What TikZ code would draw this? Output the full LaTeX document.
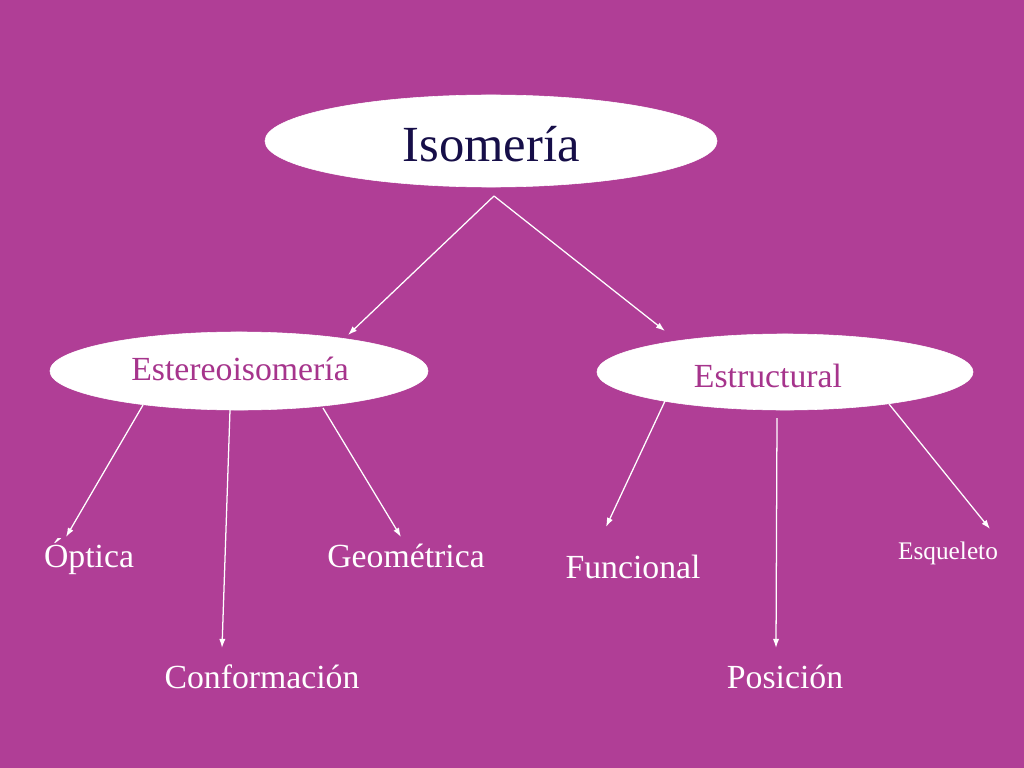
\documentclass[tikz,border=0pt]{standalone}
\usepackage{fontspec}
\setmainfont{Liberation Serif}
\usetikzlibrary{shapes.geometric}
\usetikzlibrary{arrows.meta}
\tikzset{>=latex}
\definecolor{mypurple}{RGB}{176,62,150}
\definecolor{myoval}{RGB}{166,52,140}
\definecolor{mynavy}{RGB}{22,14,72}
\tikzset{
  oval/.style={ellipse, fill=white, draw=white, inner sep=0pt},
  leaf/.style={anchor=base, text=white, inner sep=0pt},
  link/.style={-{Latex[length=6.5pt,width=4.5pt]}, white, line width=0.9pt}
}

\begin{document}
\begin{tikzpicture}[x=0.025cm, y=-0.025cm]
  
    \fill[mypurple] (0,0) rectangle (1024,768);
    
    % ovals
    \node[oval, minimum width=11.3cm, minimum height=2.3cm] (isoO) at (491,141) {};
    \node[oval, minimum width=9.45cm, minimum height=1.95cm] (esteO) at (239,371) {};
    \node[oval, minimum width=9.4cm, minimum height=1.9cm] (estrO) at (785,372) {};
    
    \node[anchor=base, text=mynavy, inner sep=0pt, font=\fontsize{36}{43}\selectfont] (iso) at (491,161) {Isomería};
    \node[anchor=base, text=myoval, inner sep=0pt, font=\fontsize{24}{29}\selectfont] (este) at (240,380) {Estereoisomería};
    \node[anchor=base, text=myoval, inner sep=0pt, font=\fontsize{24}{29}\selectfont] (estr) at (768,387) {Estructural};
    
    % leaves
    \node[leaf, font=\fontsize{24}{29}\selectfont] (opt) at (89,567) {Óptica};
    \node[leaf, font=\fontsize{24}{29}\selectfont] (geo) at (406,567) {Geométrica};
    \node[leaf, font=\fontsize{24}{29}\selectfont] (conf) at (262,688) {Conformación};
    \node[leaf, font=\fontsize{24}{29}\selectfont] (fun) at (633,578) {Funcional};
    \node[leaf, font=\fontsize{18}{22}\selectfont] (esq) at (948,559) {Esqueleto};
    \node[leaf, font=\fontsize{24}{29}\selectfont] (pos) at (785,688) {Posición};
    
    \coordinate (top) at (494,196);
    \coordinate (eL) at (348,335);
    \coordinate (sR) at (665,331);
    \coordinate (e1) at (143,405);
    \coordinate (e2) at (230,410);
    \coordinate (e3) at (323,408);
    \coordinate (o1) at (66,537);
    \coordinate (o2) at (222,648);
    \coordinate (o3) at (401,537);
    \coordinate (s1) at (665,401);
    \coordinate (s2) at (777,418);
    \coordinate (s3) at (889,404);
    \coordinate (f1) at (606,527);
    \coordinate (f2) at (776,648);
    \coordinate (f3) at (990,529);
    
    \draw[link] (top) -- (eL);
    \draw[link] (top) -- (sR);
    \draw[link] (e1) -- (o1);
    \draw[link] (e2) -- (o2);
    \draw[link] (e3) -- (o3);
    \draw[link] (s1) -- (f1);
    \draw[link] (s2) -- (f2);
    \draw[link] (s3) -- (f3);
\end{tikzpicture}
\end{document}
